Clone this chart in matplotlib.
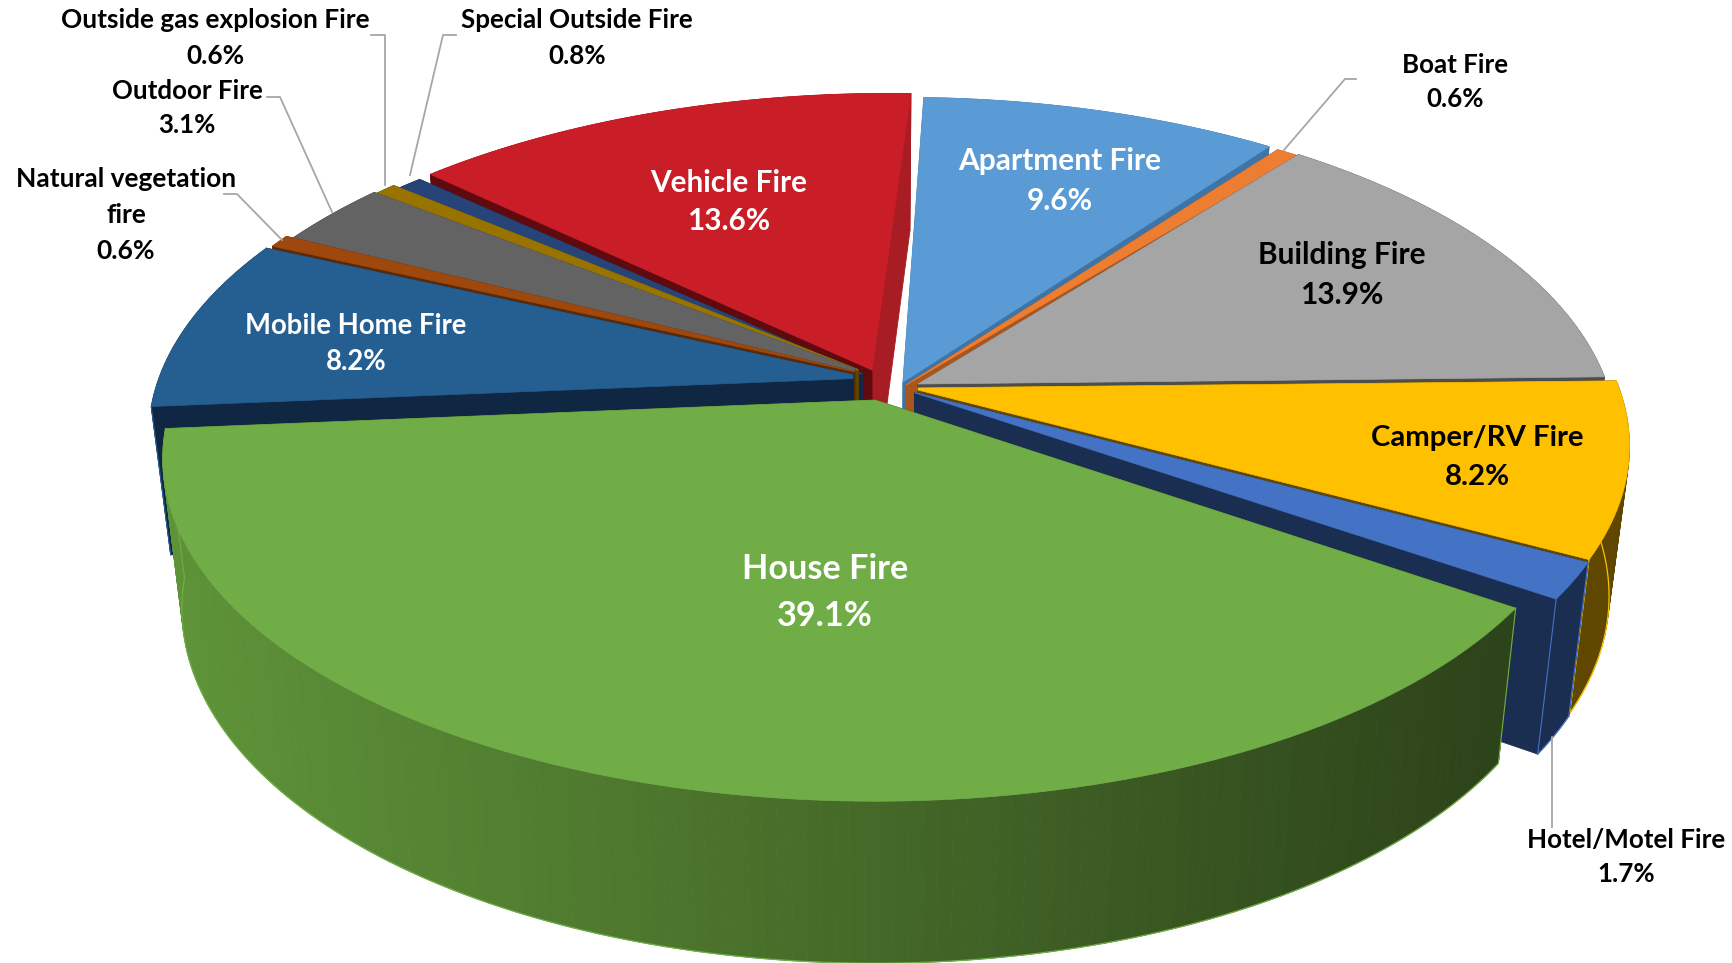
import numpy as np
import matplotlib
matplotlib.use('Agg')
import matplotlib.pyplot as plt

categories = ['Apartment Fire', 'Boat Fire', 'Building Fire', 'Camper/RV Fire', 'Hotel/Motel Fire', 'House Fire',
              'Mobile Home Fire', 'Natural vegetation\nfire', 'Outdoor Fire', 'Outside gas explosion Fire',
              'Special Outside Fire', 'Vehicle Fire']
percent = [9.6, 0.6, 13.9, 8.2, 1.7, 39.1, 8.2, 0.6, 3.1, 0.6, 0.8, 13.6]

colors = ['#5B9BD5', '#ED7D31', '#A5A5A5', '#FFC000', '#4472C4', '#70AD47',
          '#255E91', '#9E480E', '#636363', '#997300', '#264478', '#C91D27']
wall_colors = ['#3F74A6', '#A9551C', '#4D4D4D', '#5F4700', '#1A2E52', '#2D431A',
               '#0F2743', '#5A2A08', '#3A3A3A', '#5C4500', '#14264A', '#5E0A0E']

# where each slice has been pulled to (pixels), and where its point is cut off
centers = [(903, 382), (906, 385), (918, 384), (910, 388), (909, 391), (875, 400),
           (868, 378), (874, 376), (880, 378), (882, 379), (884, 383), (890, 378)]
cuts = [None, None, None, 918, 915, None, 853, 854, 855, 858, 862, 872]
x_scale = [0.985, 1, 0.972, 1, 1, 0.99, 1, 1, 1, 1, 1, 0.99]
draw_order = [11, 10, 9, 8, 7, 6, 0, 1, 2, 3, 4, 5]

# label centres, line gap, size, colour
label_pos = [(1060, 161), (1455, 65), (1342, 255), (1477, 438), (1626, 840), (825, 569),
             (356, 326), (126, 179), (187, 91), (215, 20), (577, 20), (729, 183)]
label_gap = [40, 34, 40, 39, 34, 47, 36, 36, 34, 36, 36, 38]
label_size = [21.5, 18.6, 21.5, 21.2, 18.7, 24.7, 19.8, 19, 18.6, 18.9, 18.7, 21.4]
label_color = ['white', 'black', 'black', 'black', 'black', 'white',
               'white', 'black', 'black', 'black', 'black', 'white']

leaders = [
    [(1356, 79), (1345, 79), (1284, 150)],
    [(1552, 827), (1552, 737)],
    [(224, 194), (237, 194), (282, 240)],
    [(267, 97), (280, 97), (332, 212)],
    [(371, 35), (385, 35), (385, 185)],
    [(456, 35), (443, 35), (410, 175)],
]

R_X = 709
R_Y = 333
PERSP = 0.17
ROT = 2.0
MID_X = 873


def rim(theta, center, xs):
    t = np.radians(theta)
    s = 1 / (1 + PERSP * np.cos(t))
    return center[0] + R_X * xs * np.sin(t) * s, center[1] - R_Y * np.cos(t) * s


def lower(x, y):
    # same point on the bottom of the pie
    h = 148 + (y - 398) / 403 * 14
    return MID_X + (x - MID_X) * 0.973, y + h


def quad(ax, p, q, color):
    a = lower(*p)
    b = lower(*q)
    ax.fill([p[0], q[0], b[0], a[0]], [p[1], q[1], b[1], a[1]], color=color, lw=0.6, zorder=1)


def mix(x):
    f = np.clip((x - 170) / (1500 - 170), 0, 1)
    c0 = np.array([94, 147, 56]) / 255
    c1 = np.array([45, 67, 26]) / 255
    return tuple(c0 + (c1 - c0) * f)


fig = plt.figure(figsize=(17.32, 9.63), dpi=100)
ax = fig.add_axes([0, 0, 1, 1])
ax.set_xlim(0, 1732)
ax.set_ylim(963, 0)
ax.axis('off')

edges = np.cumsum([0] + percent) * 3.6 + ROT

for i in draw_order:
    start, end = edges[i], edges[i + 1]
    c = centers[i]
    thetas = np.linspace(start, end, max(int(end - start), 2) + 1)
    pts = [rim(t, c, x_scale[i]) for t in thetas]
    name = categories[i]

    # inner end of the slice
    inner = []
    for p in (pts[-1], pts[0]):
        if cuts[i] is not None and (c[0] - p[0]) != 0:
            t = (cuts[i] - p[0]) / (c[0] - p[0])
            if 0 < t < 1:
                inner.append((cuts[i], p[1] + (c[1] - p[1]) * t))
    if not inner:
        inner = [c]
    outline = pts + inner

    rim_color = '#A81C24' if name == 'Vehicle Fire' else wall_colors[i]
    back = np.cos(np.radians((start + end) / 2)) > 0

    def draw_rim():
        for a, b in zip(pts, pts[1:]):
            quad(ax, a, b, mix((a[0] + b[0]) / 2) if name == 'House Fire' else rim_color)
        if not back:
            low = [lower(*p) for p in pts]
            ax.plot([p[0] for p in low], [p[1] for p in low], color=colors[i], lw=0.9, zorder=1)

    if back:
        draw_rim()
    inner_path = [pts[-1]] + inner + [pts[0]]
    for k, (a, b) in enumerate(zip(inner_path, inner_path[1:])):
        quad(ax, a, b, rim_color if k == 0 else wall_colors[i])
    if not back:
        draw_rim()

    if name in ('Mobile Home Fire', 'Hotel/Motel Fire', 'House Fire', 'Camper/RV Fire'):
        for p in (pts[0], pts[-1]):
            q = lower(*p)
            ax.plot([p[0], q[0]], [p[1], q[1]], color=colors[i], lw=0.8, zorder=1)

    if name == 'Vehicle Fire':
        # lit inner wall on the right of the slice
        ax.fill([pts[-1][0], inner[0][0] + 15, inner[0][0]], [pts[-1][1], inner[0][1] + 33, inner[0][1]],
                color='#A81C24', lw=0, zorder=1)

    ax.fill([p[0] for p in outline], [p[1] for p in outline], color=colors[i], lw=0.5, zorder=1)

for path in leaders:
    ax.plot([p[0] for p in path], [p[1] for p in path], color='#A6A6A6', lw=1.3, zorder=2)

for name, val, pos, gap, size, col in zip(categories, percent, label_pos, label_gap, label_size, label_color):
    lines = name.split('\n') + ['{0}%'.format(val)]
    for k, line in enumerate(lines):
        ax.text(pos[0], pos[1] + k * gap, line, ha='center', va='center', fontsize=size,
                fontweight='bold', family='Lato', color=col, zorder=3)

fig.savefig('out.png', dpi=100)
